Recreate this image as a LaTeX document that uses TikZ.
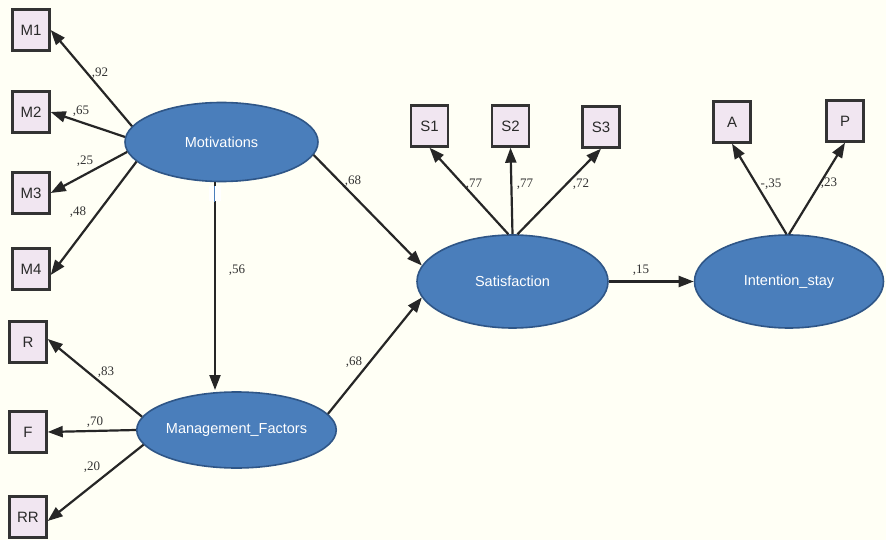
\documentclass[tikz,border=0pt]{standalone}
\usepackage{fontspec}
\setmainfont{Liberation Serif}
\newfontfamily\arialf{Liberation Sans}
\usetikzlibrary{shapes.geometric,arrows.meta}
\definecolor{bgc}{HTML}{FFFFF5}
\definecolor{ellf}{HTML}{4A7EBB}
\definecolor{elld}{HTML}{2F5687}
\definecolor{boxf}{HTML}{F1E6F1}
\definecolor{boxd}{HTML}{333333}
\definecolor{txtd}{HTML}{2A2A2A}
\tikzset{
  latent/.style={ellipse, fill=ellf, draw=elld, line width=1.6pt, inner sep=0pt,
    font=\arialf\fontsize{14.5}{16}\selectfont, text=white},
  obs/.style={rectangle, fill=boxf, draw=boxd, line width=2.4pt, minimum width=37pt,
    minimum height=41pt, inner sep=0pt, font=\arialf\fontsize{15}{17}\selectfont, text=txtd},
  path/.style={draw=black!85, line width=2.2pt, -{Triangle[length=15pt,width=11pt]}},
  coef/.style={font=\fontsize{13}{14}\selectfont, text=black!80, inner sep=0pt}
}
\begin{document}
\begin{tikzpicture}[x=1pt,y=-1pt]
\fill[bgc] (0,0) rectangle (886,540);
\useasboundingbox (0,0) rectangle (886,540);
% observed boxes
\node[obs] (M1) at (31,30) {M1};
\node[obs] (M2) at (31,112) {M2};
\node[obs] (M3) at (31,193) {M3};
\node[obs] (M4) at (31,269) {M4};
\node[obs] (R)  at (28,342) {R};
\node[obs] (F)  at (28,432) {F};
\node[obs] (RR) at (28,517) {RR};
\node[obs] (S1) at (429.5,126) {S1};
\node[obs] (S2) at (510.5,126) {S2};
\node[obs] (S3) at (601,127) {S3};
\node[obs] (A)  at (732,122) {A};
\node[obs] (P)  at (845,121) {P};
% latent ellipses
\node[latent, minimum width=193pt, minimum height=79pt] (mot) at (221.5,142) {Motivations};
\node[latent, minimum width=193pt, minimum height=76pt] (man) at (236.5,430) {Management\_Factors};
\node[latent, minimum width=191pt, minimum height=93pt] (sat) at (512.5,281.5) {Satisfaction};
\node[latent, minimum width=189pt, minimum height=93pt] (int) at (789,281.5) {Intention\_stay};
% Motivations indicators
\draw[path] (mot.170) -- (M1.east);
\draw[path] (mot.177) -- (M2.east);
\draw[path] (mot.186) -- (M3.east);
\draw[path] (mot.193) -- ([yshift=-6pt]M4.east);
\node[coef] (c92) at (100,73) {,92};
\node[coef] (c65) at (81,111) {,65};
\node[coef] (c25) at (85,161) {,25};
\node[coef] (c48) at (78,212) {,48};
% Motivations -> Management
\coordinate (mtop) at (215,182);
\coordinate (mbot) at (215,390);
\draw[path] (mtop) -- (mbot);
\fill[white] (209,186) rectangle (221,201);
\draw[ellf, line width=1.8pt] (214.5,186) -- (214.5,202);
\node[coef] (c56) at (237,270) {,56};
% Management indicators
\draw[path] (man.172) -- ([yshift=3pt]R.east);
\draw[path] (man.180.5) -- (F.east);
\draw[path] (man.189) -- ([yshift=-4pt]RR.east);
\node[coef] (c83) at (106,372) {,83};
\node[coef] (c70) at (95,422) {,70};
\node[coef] (c20) at (92,467) {,20};
% structural paths
\draw[path] (mot.-8) -- (sat.170);
\node[coef] (c68a) at (353,181) {,68};
\draw[path] (man.10) -- (sat.190);
\node[coef] (c68b) at (354,362) {,68};
\draw[path] (sat.east) -- (int.west);
\node[coef] (c15) at (641,270) {,15};
% Satisfaction indicators
\draw[path] (sat.95) -- (S1.south);
\draw[path] (sat.90) -- (S2.south);
\draw[path] (sat.84) -- (S3.south);
\node[coef] (c77a) at (474,184) {,77};
\node[coef] (c77b) at (525,184) {,77};
\node[coef] (c72) at (581,184) {,72};
% Intention indicators
\draw[path] (int.93) -- (A.south);
\draw[path] (int.90) -- (P.south);
\node[coef] (c35) at (771,184) {-,35};
\node[coef] (c23) at (829,183) {,23};
\end{tikzpicture}
\end{document}
